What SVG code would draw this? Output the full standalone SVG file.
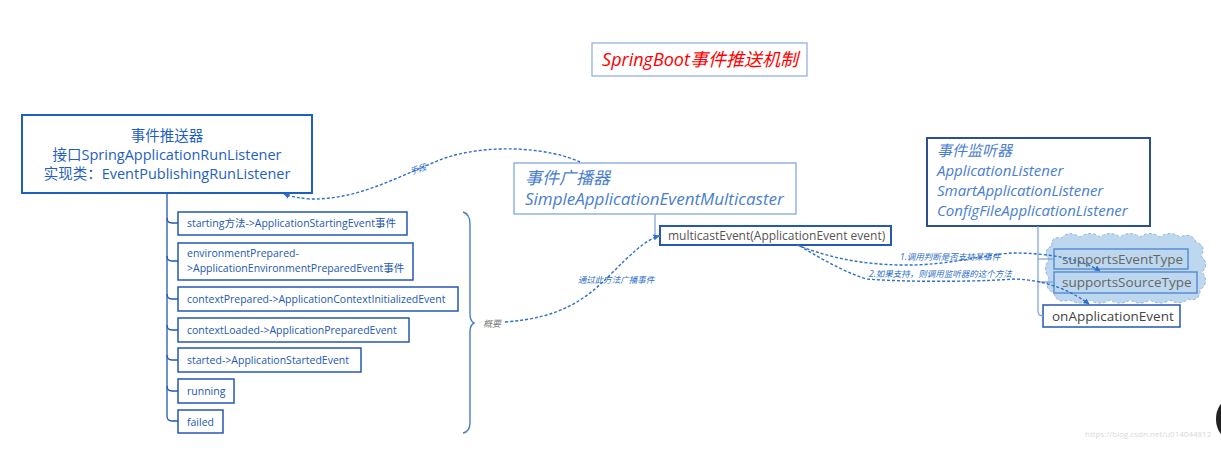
<svg xmlns="http://www.w3.org/2000/svg" width="1221" height="457" viewBox="0 0 1221 457">
<defs>
<style>
text{font-family:"Open Sans","Noto Sans CJK SC",sans-serif;}
.main{fill:#fff;stroke:#1f5fbf;stroke-width:2;}
.item{fill:#fff;stroke:#2458b3;stroke-width:1.5;}
.light{fill:#fff;stroke:#7aa0dc;stroke-width:1.2;}
.t-main{fill:#1f5fbf;font-size:14.5px;}
.t-item{fill:#2458b3;font-size:10.5px;}
.t-it{fill:#4a7ecf;font-size:17px;font-style:italic;}
.t-li{fill:#4a7ecf;font-size:15px;font-style:italic;}
.t-gray{fill:#555;font-size:12px;}
.lbl{fill:#2e6fc7;font-size:8.5px;font-style:italic;}
.tree{fill:none;stroke:#2458b3;stroke-width:1.3;}
.tree2{fill:none;stroke:#7aa0dc;stroke-width:1.2;}
.dash{fill:none;stroke:#2e6fc7;stroke-width:1.4;stroke-dasharray:3 2;}
.sub{fill:#bdd7ee;stroke:#5b8fd1;stroke-width:1.5;}
</style>
<marker id="arr" viewBox="0 0 10 10" refX="9" refY="5" markerWidth="6" markerHeight="6" orient="auto-start-reverse" markerUnits="userSpaceOnUse">
<path d="M0,0 L10,5 L0,10 z" fill="#2e6fc7"/>
</marker>
</defs>
<rect width="1221" height="457" fill="#fff"/>

<g id="title">
<rect x="592" y="43" width="215" height="33" fill="#fff" stroke="#8eaadb" stroke-width="1.2"/>
<text x="700" y="66" text-anchor="middle" fill="#ff0000" font-size="18" font-style="italic">SpringBoot事件推送机制</text>
</g>

<g id="publisher">
<rect class="main" x="22" y="115" width="290" height="78"/>
<text class="t-main" x="167" y="141" text-anchor="middle">事件推送器</text>
<text class="t-main" x="167" y="160" text-anchor="middle">接口SpringApplicationRunListener</text>
<text class="t-main" x="167" y="179" text-anchor="middle">实现类：EventPublishingRunListener</text>
</g>
<g id="starting">
<rect class="item" x="178" y="212" width="229" height="23"/>
<text class="t-item" x="187" y="227">starting方法-&gt;ApplicationStartingEvent事件</text>
</g>
<g id="environmentPrepared">
<rect class="item" x="178" y="243" width="235" height="37"/>
<text class="t-item" x="187" y="257">environmentPrepared-</text>
<text class="t-item" x="187" y="272">&gt;ApplicationEnvironmentPreparedEvent事件</text>
</g>
<g id="contextPrepared">
<rect class="item" x="178" y="287" width="280" height="24"/>
<text class="t-item" x="187" y="303">contextPrepared-&gt;ApplicationContextInitializedEvent</text>
</g>
<g id="contextLoaded">
<rect class="item" x="178" y="318" width="231" height="24"/>
<text class="t-item" x="187" y="334">contextLoaded-&gt;ApplicationPreparedEvent</text>
</g>
<g id="started">
<rect class="item" x="178" y="348" width="183" height="24"/>
<text class="t-item" x="187" y="364">started-&gt;ApplicationStartedEvent</text>
</g>
<g id="running">
<rect class="item" x="178" y="379" width="56" height="24"/>
<text class="t-item" x="187" y="395">running</text>
</g>
<g id="failed">
<rect class="item" x="178" y="410" width="45" height="23"/>
<text class="t-item" x="187" y="426">failed</text>
</g>

<g id="multicaster">
<rect class="light" x="514" y="163" width="282" height="51"/>
<text class="t-it" x="525" y="184">事件广播器</text>
<text class="t-it" x="525" y="205">SimpleApplicationEventMulticaster</text>
</g>
<g id="multicastEvent">
<rect x="660" y="226" width="231" height="19" fill="#fff" stroke="#2458b3" stroke-width="2"/>
<text class="t-gray" x="668" y="240">multicastEvent(ApplicationEvent event)</text>
</g>

<g id="listener">
<rect x="927" y="138" width="223" height="88" fill="#fff" stroke="#2c4f8f" stroke-width="2"/>
<text class="t-li" x="937" y="156">事件监听器</text>
<text class="t-li" x="937" y="176">ApplicationListener</text>
<text class="t-li" x="937" y="196">SmartApplicationListener</text>
<text class="t-li" x="937" y="216">ConfigFileApplicationListener</text>
</g>
<g id="cloud">
<path fill="#bdd7ee" stroke="#8fb4de" stroke-width="1" stroke-dasharray="3 2" d="M1052,246 Q1050,236 1062,238 Q1068,230 1080,237 Q1090,230 1100,237 Q1110,230 1120,237 Q1130,230 1140,237 Q1150,230 1160,237 Q1170,230 1180,237 Q1192,232 1196,242 Q1207,246 1201,256 Q1210,264 1202,272 Q1210,282 1200,290 Q1200,302 1188,299 Q1180,306 1170,300 Q1160,306 1150,300 Q1140,306 1130,300 Q1120,306 1110,300 Q1100,306 1090,300 Q1080,306 1070,300 Q1056,304 1054,293 Q1043,288 1049,278 Q1042,268 1049,260 Q1042,250 1052,246 Z"/>
</g>
<g id="supportsEventType">
<rect class="sub" x="1054" y="249" width="134" height="20"/>
<text x="1062" y="264" fill="#666" font-size="13.5">supportsEventType</text>
</g>
<g id="supportsSourceType">
<rect class="sub" x="1054" y="272" width="143" height="21"/>
<text x="1062" y="287" fill="#666" font-size="13.5">supportsSourceType</text>
</g>
<g id="onApplicationEvent">
<rect x="1043" y="305" width="137" height="22" fill="#fff" stroke="#2458b3" stroke-width="1.5"/>
<text x="1052" y="321" fill="#444" font-size="13.5">onApplicationEvent</text>
</g>

<g id="connectors">
<path class="tree" d="M167,193 L167,416 Q167,421 172,421 L178,421"/>
<path class="tree" d="M167,218 Q167,223 172,223 L178,223"/>
<path class="tree" d="M167,256 Q167,261 172,261 L178,261"/>
<path class="tree" d="M167,294 Q167,299 172,299 L178,299"/>
<path class="tree" d="M167,325 Q167,330 172,330 L178,330"/>
<path class="tree" d="M167,355 Q167,360 172,360 L178,360"/>
<path class="tree" d="M167,386 Q167,391 172,391 L178,391"/>
<path fill="none" stroke="#4a7ebb" stroke-width="1.4" d="M463,212 Q470,214 470,224 L470,314 Q470,321 474,323 Q470,325 470,332 L470,422 Q470,432 463,433"/>
<path class="tree2" d="M655,214 L655,236 L660,236"/>
<path class="tree2" d="M1038,226 L1038,311 Q1038,316 1043,316"/>
<path class="tree2" d="M1038,259 L1054,259"/>
<path class="tree2" d="M1038,282 L1054,282"/>
<path class="dash" marker-end="url(#arr)" d="M580,162 C550,148 490,143 445,158 C400,175 360,200 310,199 C300,198 292,197 284,194"/>
<path class="dash" marker-end="url(#arr)" d="M505,322 C560,318 585,300 610,275 C630,255 645,240 659,236"/>
<path class="dash" marker-end="url(#arr)" d="M797,245 C830,258 860,264 900,265 C950,266 985,254 1013,253 C1045,253 1080,258 1100,271"/>
<path class="dash" marker-end="url(#arr)" d="M800,246 C820,258 840,270 866,279 C920,283 990,281 1015,279 C1045,280 1070,290 1089,304"/>
<text class="lbl" x="410" y="175" transform="rotate(-18 410 172)">手段</text>
<text x="483" y="327" fill="#7f7f7f" font-size="9" font-style="italic">概要</text>
<text class="lbl" x="616" y="283" text-anchor="middle">通过此方法广播事件</text>
<text class="lbl" x="900" y="260">1.调用判断是否支持某事件</text>
<text class="lbl" x="869" y="277">2.如果支持，则调用监听器的这个方法</text>
</g>

<text x="1085" y="437" fill="#d9d9d9" font-size="8" font-family="Liberation Sans, sans-serif">https://blog.csdn.net/u014044812</text>
<ellipse cx="1229" cy="419" rx="13" ry="19" fill="#222"/>
</svg>
